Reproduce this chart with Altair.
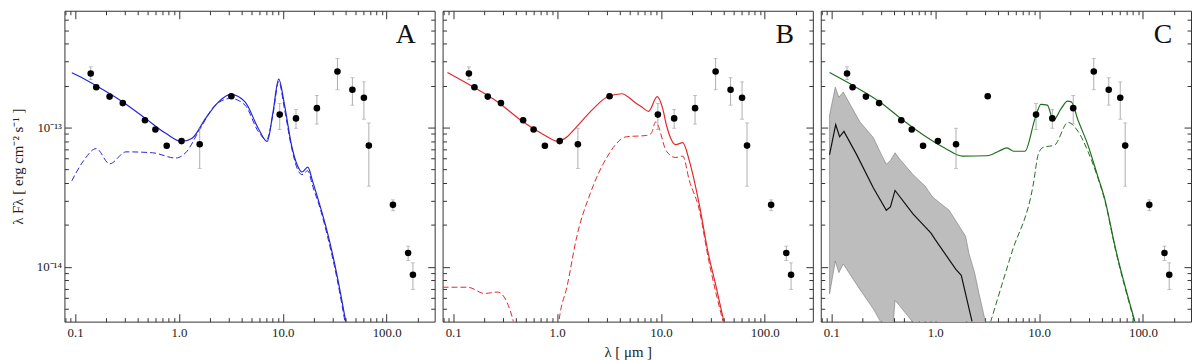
import altair as alt
import pandas as pd

# ---------------- data ----------------
lam_obs = [0.1415, 0.160, 0.215, 0.288, 0.471, 0.594, 0.763, 1.06, 1.585, 3.2,
           9.34, 13.4, 21.3, 33.6, 46.8, 60.4, 67.4, 115, 161, 179]
flux_obs = [2.45e-13, 1.95e-13, 1.67e-13, 1.50e-13, 1.13e-13, 9.7e-14, 7.4e-14, 8.0e-14, 7.6e-14, 1.68e-13,
            1.24e-13, 1.165e-13, 1.38e-13, 2.53e-13, 1.87e-13, 1.64e-13, 7.43e-14, 2.79e-14, 1.26e-14, 8.8e-15]
flux_lo = [2.21e-13, 1.88e-13, 1.61e-13, 1.45e-13, 1.09e-13, 9.4e-14, 7.1e-14, 7.7e-14, 5.1e-14, 1.62e-13,
           9.7e-14, 9.9e-14, 1.06e-13, 1.87e-13, 1.45e-13, 1.15e-13, 3.8e-14, 2.53e-14, 1.11e-14, 6.9e-15]
flux_hi = [2.73e-13, 2.02e-13, 1.73e-13, 1.55e-13, 1.17e-13, 1.0e-13, 7.7e-14, 8.3e-14, 9.9e-14, 1.74e-13,
           1.49e-13, 1.35e-13, 1.70e-13, 3.14e-13, 2.28e-13, 2.13e-13, 1.08e-13, 3.03e-14, 1.41e-14, 1.07e-14]

# Panel A (blue)
lam_A = [0.093, 0.107, 0.16, 0.288, 0.48, 0.746, 1.06, 1.34, 1.8, 2.41, 3.15, 4.33, 5.8, 7.07, 8.06,
         9.13, 10.4, 12.1, 13.9, 15.3, 17.4, 19.4, 23, 27, 33, 40.5]
flux_A = [2.48e-13, 2.36e-13, 2.0e-13, 1.53e-13, 1.16e-13, 9.1e-14, 7.96e-14, 8.4e-14, 1.16e-13, 1.53e-13,
          1.73e-13, 1.53e-13, 9.9e-14, 7.96e-14, 1.3e-13, 2.23e-13, 1.45e-13, 7.55e-14, 5.3e-14, 4.8e-14,
          5.2e-14, 4.1e-14, 2.7e-14, 1.75e-14, 9e-15, 4e-15]
lam_Ad = [0.093, 0.12, 0.16, 0.215, 0.31, 0.557, 0.93, 1.16, 1.61, 2.24, 3.15, 4.33, 5.8, 6.97, 8.06,
          9.13, 10.4, 12.1, 13.9, 15.3, 17.4, 19.4, 23, 27, 33, 40]
flux_Ad = [4.15e-14, 5.75e-14, 7.07e-14, 5.5e-14, 6.7e-14, 6.6e-14, 6.05e-14, 6.6e-14, 9.9e-14, 1.45e-13,
           1.62e-13, 1.45e-13, 9.4e-14, 8.2e-14, 1.25e-13, 2.14e-13, 1.35e-13, 7.3e-14, 5.0e-14, 4.6e-14,
           4.9e-14, 3.8e-14, 2.6e-14, 1.65e-14, 8.5e-15, 3.9e-15]

# Panel B (red)
lam_B = [0.088, 0.149, 0.268, 0.447, 0.745, 1.0, 1.25, 1.44, 2.24, 3.0, 4.17, 5.8, 6.5, 7.6, 9.2,
         10.4, 11.3, 13.9, 16.2, 18.8, 23.3, 28.6, 34, 40.5]
flux_B = [2.49e-13, 2.0e-13, 1.53e-13, 1.13e-13, 8.9e-14, 8.0e-14, 8.6e-14, 9.6e-14, 1.37e-13, 1.65e-13,
          1.75e-13, 1.49e-13, 1.41e-13, 1.31e-13, 1.67e-13, 1.37e-13, 1.04e-13, 7.55e-14, 7.8e-14, 5.75e-14,
          2.85e-14, 1.24e-14, 7.2e-15, 4e-15]
lam_Bd = [0.079, 0.138, 0.2, 0.268, 0.372, 0.45, 0.95, 1.04, 1.25, 1.55, 2.08, 3.0, 4.65, 7.23, 8.07,
          8.9, 11.3, 13.9, 16.2, 18.8, 23.3, 28.6, 40.5]
flux_Bd = [7.15e-15, 7.15e-15, 6.45e-15, 6.6e-15, 4.3e-15, 2e-15, 2e-15, 4e-15, 7.3e-15, 1.66e-14,
           3.35e-14, 6.08e-14, 8.6e-14, 8.78e-14, 9.1e-14, 1.1e-13, 6.77e-14, 6.1e-14, 6.24e-14, 4.15e-14,
           2.6e-14, 1.15e-14, 3.8e-15]

# Panel C (green + black with band)
lam_C = [0.096, 0.163, 0.293, 0.49, 0.815, 1.23, 1.83, 3.16, 4.08, 4.9, 5.68, 7.3, 9.13, 10.4, 12.0,
         13.7, 16.3, 18.8, 20.4, 23.7, 29.4, 36.6, 42.4, 54.7, 84]
flux_C = [2.49e-13, 2.0e-13, 1.53e-13, 1.13e-13, 8.6e-14, 7.15e-14, 6.24e-14, 6.28e-14, 6.77e-14, 7.15e-14,
          6.77e-14, 6.77e-14, 1.16e-13, 1.47e-13, 1.45e-13, 1.13e-13, 1.37e-13, 1.55e-13, 1.53e-13, 1.13e-13,
          7.55e-14, 4.5e-14, 3.17e-14, 1.33e-14, 4e-15]
lam_Cd = [3.4, 5.44, 8.8, 9.8, 10.9, 14.1, 19.0, 23.7, 29.4, 36.6, 42.4, 54.7, 84]
flux_Cd = [4e-15, 1.26e-14, 3.94e-14, 6.4e-14, 7.2e-14, 7.5e-14, 1.09e-13, 9.4e-14, 6.8e-14, 4.4e-14,
           3.1e-14, 1.3e-14, 3.9e-15]
lam_K = [0.096, 0.11, 0.12, 0.132, 0.175, 0.253, 0.338, 0.37, 0.41, 0.61, 0.91, 1.0, 1.58, 1.78, 2.27, 2.4]
flux_K = [6.4e-14, 1.05e-13, 8.6e-14, 9.4e-14, 6.4e-14, 3.7e-14, 2.55e-14, 2.7e-14, 3.54e-14, 2.4e-14,
          1.75e-14, 1.57e-14, 9.6e-15, 8.7e-15, 4e-15, 3e-15]
lam_band = [0.096, 0.109, 0.118, 0.13, 0.188, 0.253, 0.30, 0.338, 0.37, 0.39, 0.41, 0.45, 0.61, 0.8,
            0.945, 1.36, 1.96, 2.11, 2.4, 2.63, 3.05]
band_hi = [1.23e-13, 1.95e-13, 1.65e-13, 1.8e-13, 1.1e-13, 8.5e-14, 6.5e-14, 5.45e-14, 5.8e-14, 6.2e-14,
           6.6e-14, 6.0e-14, 4.6e-14, 3.8e-14, 3.17e-14, 2.55e-14, 1.66e-14, 1.25e-14, 9e-15, 6.5e-15, 4e-15]
band_lo = [6.4e-15, 1.1e-14, 9.1e-15, 1.05e-14, 6.9e-15, 5.0e-15, 4e-15, 3e-15, 3e-15, 3.6e-15,
           5.75e-15, 5.3e-15, 4e-15, 2.5e-15, 2e-15, 2e-15, 2e-15, 2e-15, 2e-15, 2e-15, 2e-15]

x_major = [0.1, 1, 10, 100]
x_minor = [0.08, 0.09, 0.2, 0.3, 0.4, 0.5, 0.6, 0.7, 0.8, 0.9, 2, 3, 4, 5, 6, 7, 8, 9,
           20, 30, 40, 50, 60, 70, 80, 90, 200]
y_major = [1e-14, 1e-13]
y_minor = [4e-15, 5e-15, 6e-15, 7e-15, 8e-15, 9e-15, 2e-14, 3e-14, 4e-14, 5e-14, 6e-14, 7e-14,
           8e-14, 9e-14, 2e-13, 3e-13, 4e-13, 5e-13, 6e-13]
x_domain = [0.079, 290]
y_domain = [4.05e-15, 6.9e-13]

# ---------------- styling ----------------
FONT = "Liberation Serif"
W, H = 374, 314
TICK = "#333333"

obs = pd.DataFrame({"lam": lam_obs, "flux": flux_obs, "lo": flux_lo, "hi": flux_hi})
xs = alt.Scale(type="log", domain=x_domain, nice=False)
ys = alt.Scale(type="log", domain=y_domain, nice=False)


def tick_axis(orient, offset, values, size):
    return alt.Axis(orient=orient, offset=offset, values=values, labels=False, tickSize=size,
                    tickColor=TICK, tickWidth=1, domain=False, grid=False, title=None)


def carriers(show_ylab, xtitle):
    xlab_kw = dict(orient="bottom", values=x_major, ticks=False, domain=False, grid=False,
                   labelExpr="format(datum.value, '.1f')", labelFont=FONT, labelFontSize=13,
                   labelColor="#222222", labelPadding=5)
    if xtitle:
        xlab_kw.update(title=xtitle, titleFont=FONT, titleFontSize=15, titleFontWeight="normal",
                       titleColor="#222222", titlePadding=5)
    else:
        xlab_kw.update(title=None)
    xaxes = [alt.Axis(**xlab_kw),
             tick_axis("top", -H, x_major, 8), tick_axis("top", -H, x_minor, 4),
             tick_axis("bottom", -H, x_major, 8), tick_axis("bottom", -H, x_minor, 4)]
    ylab = None
    if show_ylab:
        ylab = alt.Axis(orient="left", values=y_major, ticks=False, domain=False, grid=False,
                        labelExpr="datum.value < 3e-14 ? '10⁻¹⁴' : '10⁻¹³'",
                        labelFont=FONT, labelFontSize=13, labelColor="#222222", labelPadding=3,
                        title="λ Fλ  [ erg cm⁻² s⁻¹ ]", titleFont=FONT, titleFontSize=15,
                        titleFontWeight="normal", titleColor="#222222", titlePadding=11)
    yaxes = [ylab,
             tick_axis("right", -W, y_major, 7), tick_axis("right", -W, y_minor, 4),
             tick_axis("left", -W, y_major, 7), tick_axis("left", -W, y_minor, 4)]
    out = []
    for xa, ya in zip(xaxes, yaxes):
        out.append(alt.Chart(obs).mark_point(opacity=0).encode(
            x=alt.X("lam:Q", scale=xs, axis=xa),
            y=alt.Y("flux:Q", scale=ys, axis=ya)))
    return out


def line(lams, fluxes, color, dashed=False, width=1.2, interp="monotone"):
    df = pd.DataFrame({"lam": lams, "flux": fluxes})
    kw = dict(color=color, strokeWidth=width, clip=True, interpolate=interp)
    if dashed:
        kw["strokeDash"] = [6, 3]
        kw["strokeWidth"] = 1.0
    return alt.Chart(df).mark_line(**kw).encode(
        x=alt.X("lam:Q", scale=xs, axis=None),
        y=alt.Y("flux:Q", scale=ys, axis=None))


def obs_layers():
    base = alt.Chart(obs)
    bars = base.mark_rule(color="#999999", strokeWidth=0.8).encode(
        x=alt.X("lam:Q", scale=xs, axis=None),
        y=alt.Y("lo:Q", scale=ys, axis=None), y2="hi:Q")
    cap_lo = base.mark_tick(color="#999999", orient="horizontal", size=4, thickness=0.8).encode(
        x=alt.X("lam:Q", scale=xs, axis=None), y=alt.Y("lo:Q", scale=ys, axis=None))
    cap_hi = base.mark_tick(color="#999999", orient="horizontal", size=4, thickness=0.8).encode(
        x=alt.X("lam:Q", scale=xs, axis=None), y=alt.Y("hi:Q", scale=ys, axis=None))
    pts = base.mark_circle(color="black", size=44, opacity=1).encode(
        x=alt.X("lam:Q", scale=xs, axis=None), y=alt.Y("flux:Q", scale=ys, axis=None))
    return [bars, cap_lo, cap_hi, pts]


def letter(t):
    return alt.Chart(pd.DataFrame({"t": [t]})).mark_text(
        font=FONT, fontSize=28, align="right", baseline="alphabetic", color="#111111"
    ).encode(text="t:N", x=alt.value(W - 19), y=alt.value(33))


def panel(layers, show_ylab, xtitle, t):
    return alt.layer(*carriers(show_ylab, xtitle), *layers, *obs_layers(), letter(t)).resolve_axis(
        x="independent", y="independent").properties(width=W, height=H)


BLUE = "#2424d8"
RED = "#e3262b"
GREEN = "#1f6e1f"

pA = panel([line(lam_A, flux_A, BLUE), line(lam_Ad, flux_Ad, BLUE, dashed=True)], True, None, "A")
pB = panel([line(lam_B, flux_B, RED), line(lam_Bd, flux_Bd, RED, dashed=True)], False, "λ [ μm ]", "B")

band_df = pd.DataFrame({"lam": lam_band, "hi": band_hi, "lo": band_lo})
band = alt.Chart(band_df).mark_area(color="#bdbdbd", opacity=1, stroke="#7a7a7a", strokeWidth=0.6,
                                    clip=True).encode(
    x=alt.X("lam:Q", scale=xs, axis=None),
    y=alt.Y("hi:Q", scale=ys, axis=None), y2="lo:Q")
pC = panel([band, line(lam_K, flux_K, "#111111", interp="linear"),
            line(lam_C, flux_C, GREEN), line(lam_Cd, flux_Cd, GREEN, dashed=True)], False, None, "C")

chart = alt.hconcat(pA, pB, pC, spacing=6).properties(
    padding={"left": 2, "top": 0, "right": 0, "bottom": 0}, background="white"
).configure_view(stroke="#333333", strokeWidth=1)

chart.save("out.html", embed_options={"renderer": "svg", "actions": False})
